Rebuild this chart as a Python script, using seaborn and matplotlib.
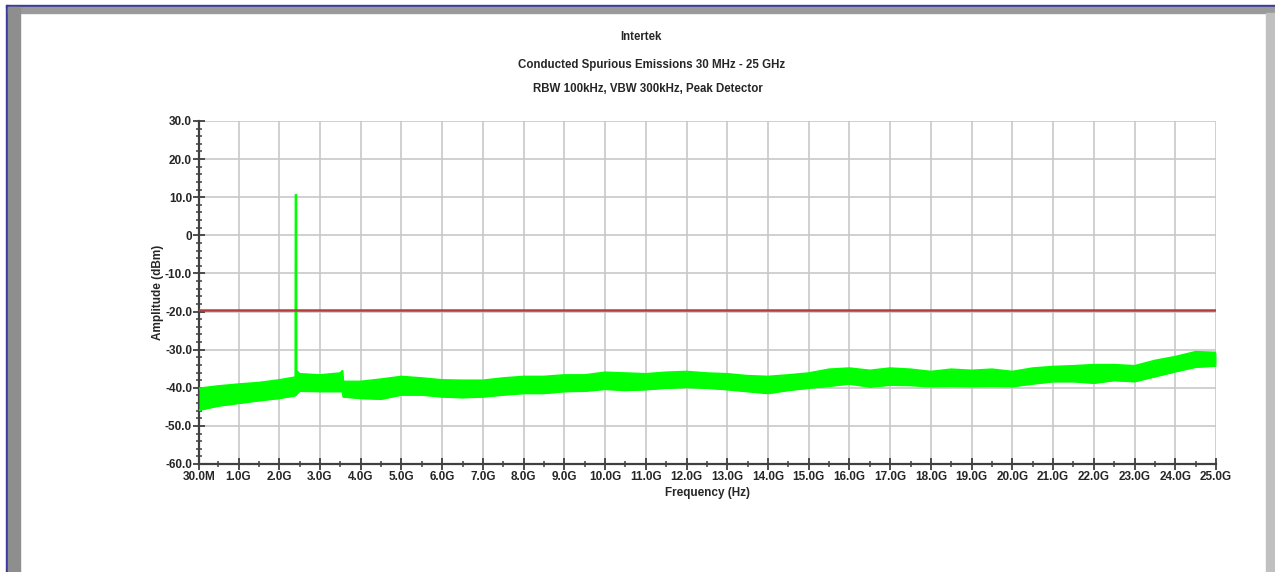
import numpy as np
import pandas as pd
import matplotlib
matplotlib.use("Agg")
import matplotlib.pyplot as plt
from matplotlib.patches import Rectangle
from matplotlib.ticker import FixedLocator, MultipleLocator
import seaborn as sns

# Trace envelope (GHz, dBm)
freq_ghz = [0.03, 0.5, 1.0, 1.5, 2.0, 2.38, 2.40, 2.405, 2.415, 2.42,
            2.5, 3.0, 3.5, 3.55, 3.57, 4.0, 4.5, 5.0, 5.5, 6.0,
            6.5, 7.0, 7.5, 8.0, 8.5, 9.0, 9.5, 10.0, 10.5, 11.0,
            11.5, 12.0, 12.5, 13.0, 13.5, 14.0, 14.5, 15.0, 15.5, 16.0,
            16.5, 17.0, 17.5, 18.0, 18.5, 19.0, 19.5, 20.0, 20.5, 21.0,
            21.5, 22.0, 22.5, 23.0, 23.5, 24.0, 24.5, 25.0]
upper_dbm = [-40.2, -39.6, -39.1, -38.7, -38.0, -37.3, -37.0, 10.6, 10.6, -35.5,
             -36.4, -36.7, -36.2, -35.6, -38.4, -38.4, -37.8, -37.1, -37.5, -38.0,
             -38.1, -38.1, -37.5, -37.1, -37.1, -36.7, -36.7, -36.0, -36.2, -36.4,
             -36.0, -35.8, -36.2, -36.4, -36.9, -37.1, -36.7, -36.2, -35.2, -34.9,
             -35.5, -34.9, -35.2, -35.8, -35.2, -35.5, -35.2, -35.8, -34.9, -34.5,
             -34.3, -34.0, -34.0, -34.3, -32.9, -31.9, -30.6, -30.8]
lower_dbm = [-45.9, -44.8, -44.1, -43.4, -42.8, -42.1, -42.0, -42.0, -41.9, -41.8,
             -40.9, -41.0, -41.0, -41.0, -42.4, -42.8, -43.0, -41.9, -41.9, -42.4,
             -42.6, -42.4, -41.9, -41.5, -41.5, -41.0, -40.9, -40.4, -40.7, -40.5,
             -40.1, -39.9, -40.1, -40.5, -41.0, -41.5, -40.7, -40.1, -39.6, -39.0,
             -39.8, -39.3, -39.4, -39.7, -39.6, -39.7, -39.6, -39.7, -39.0, -38.4,
             -38.4, -38.8, -38.1, -38.4, -37.1, -35.8, -34.6, -34.3]

limit_dbm = -19.7
x_ticks = [0.03] + list(range(1, 26))
x_labels = ["30.0M"] + [f"{v}.0G" for v in range(1, 26)]
y_ticks = [30, 20, 10, 0, -10, -20, -30, -40, -50, -60]
y_labels = ["30.0", "20.0", "10.0", "0", "-10.0", "-20.0", "-30.0", "-40.0", "-50.0", "-60.0"]

df = pd.DataFrame({"freq": freq_ghz, "upper": upper_dbm, "lower": lower_dbm})
limit_df = pd.DataFrame({"freq": [0.03, 25.0], "level": [limit_dbm, limit_dbm]})

sns.set_theme(style="white")
plt.rcParams["font.family"] = ["Liberation Sans", "DejaVu Sans"]

W, H = 1275, 572
fig = plt.figure(figsize=(W / 100, H / 100), dpi=100)
fig.patch.set_facecolor("white")

# window frame
def px_rect(x0, y0, w, h, color):
    fig.patches.append(Rectangle((x0 / W, 1 - (y0 + h) / H), w / W, h / H,
                                 transform=fig.transFigure, color=color, zorder=0))

px_rect(6, 5, W - 6, 2, "#3b3b9c")
px_rect(6, 5, 2, H - 5, "#3b3b9c")
px_rect(8, 7, W - 8, 6, "#9a9a9a")
px_rect(8, 7, 12, H - 7, "#8e8e8e")
px_rect(1266, 13, 9, H - 13, "#c0c0c0")

ax = fig.add_axes([199 / W, 1 - 464 / H, (1216 - 199) / W, (464 - 121) / H])
ax.set_facecolor("white")

ax.fill_between(df["freq"], df["lower"], df["upper"], color="#00ff00", lw=0, zorder=3)
sns.lineplot(data=df, x="freq", y="upper", ax=ax, color="#00ff00", lw=1.6, zorder=3)
sns.lineplot(data=df, x="freq", y="lower", ax=ax, color="#00ff00", lw=1.2, zorder=3)
sns.lineplot(data=limit_df, x="freq", y="level", ax=ax, color="#b83c3c", lw=1.8, zorder=4)

ax.set_xlim(0.03, 25.0)
ax.set_ylim(-60, 30)

ax.xaxis.set_major_locator(FixedLocator(x_ticks))
ax.set_xticklabels(x_labels)
ax.xaxis.set_minor_locator(FixedLocator([v + 0.5 for v in range(0, 25)]))
ax.yaxis.set_major_locator(FixedLocator(y_ticks))
ax.set_yticklabels(y_labels)
ax.yaxis.set_minor_locator(MultipleLocator(2))

ax.grid(True, which="major", color="#c8c8c8", lw=1.2, zorder=1)
ax.set_axisbelow(True)

for side in ["top", "right"]:
    ax.spines[side].set_visible(False)
for side in ["left", "bottom"]:
    ax.spines[side].set_color("#404040")
    ax.spines[side].set_linewidth(1.6)

ax.tick_params(axis="both", which="both", left=True, bottom=True)
ax.tick_params(axis="both", which="major", direction="inout", length=8, width=1.3,
               color="#404040", labelsize=8.5, pad=1)
ax.tick_params(axis="both", which="minor", direction="inout", length=5, width=1.1,
               color="#404040")
for lab in ax.get_xticklabels() + ax.get_yticklabels():
    lab.set_fontweight("bold")

ax.set_xlabel("Frequency (Hz)", fontsize=8.5, fontweight="bold", labelpad=3)
ax.set_ylabel("Amplitude (dBm)", fontsize=8.5, fontweight="bold", labelpad=1)

fig.text(641 / W, 1 - 37 / H, "Intertek", ha="center", va="center", fontsize=8.3, fontweight="bold")
fig.text(652 / W, 1 - 65 / H, "Conducted Spurious Emissions 30 MHz - 25 GHz",
         ha="center", va="center", fontsize=8.3, fontweight="bold")
fig.text(648 / W, 1 - 89 / H, "RBW 100kHz, VBW 300kHz, Peak Detector",
         ha="center", va="center", fontsize=8.3, fontweight="bold")

fig.savefig("out.png", dpi=100)
